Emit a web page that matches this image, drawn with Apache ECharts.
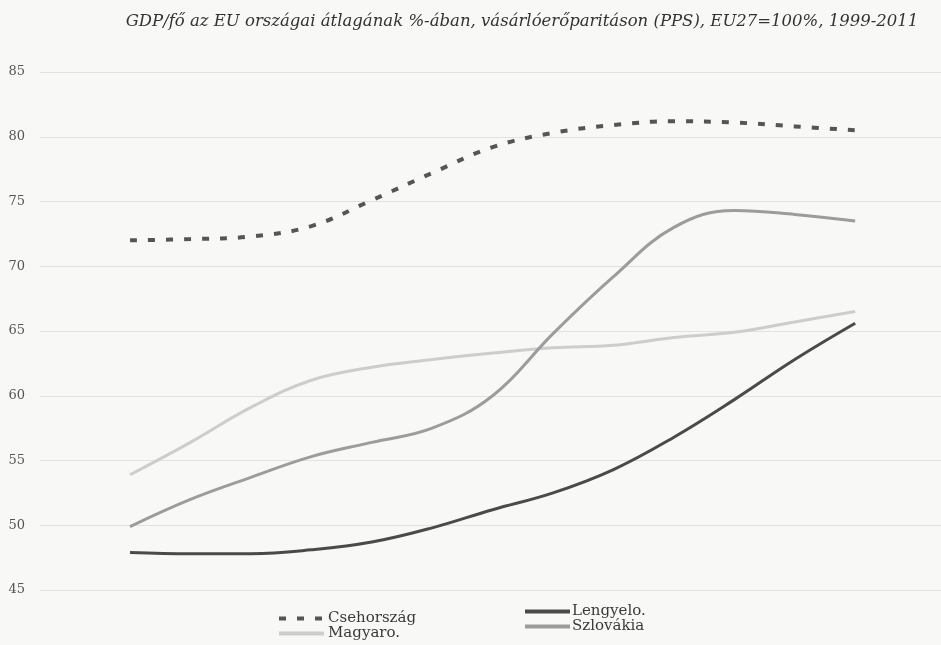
<!DOCTYPE html>
<html>

<head>
    <meta charset="utf-8">
    <title>GDP/fő PPS</title>
    <script src="https://cdn.jsdelivr.net/npm/echarts@6/dist/echarts.min.js"></script>
    <style>
        html, body { margin: 0; padding: 0; background: #f8f8f6; }
        #main { width: 941px; height: 645px; }
    </style>
</head>

<body>
    <div id="main"></div>
    <script>
        // évek
        var years = [1999, 2000, 2001, 2002, 2003, 2004, 2005, 2006, 2007, 2008, 2009, 2010, 2011];
        // országok adatai (EU27 = 100)
        var cseh = [72.0, 72.1, 72.3, 73.1, 75.1, 77.2, 79.2, 80.3, 80.9, 81.2, 81.1, 80.8, 80.5];
        var lengyel = [47.9, 47.8, 47.8, 48.1, 48.7, 49.8, 51.2, 52.5, 54.3, 56.8, 59.7, 62.8, 65.6];
        var magyar = [53.9, 56.4, 59.1, 61.2, 62.2, 62.8, 63.3, 63.7, 63.9, 64.5, 64.9, 65.7, 66.5];
        var szlovak = [49.9, 52.0, 53.7, 55.3, 56.4, 57.5, 60.0, 64.8, 69.2, 73.0, 74.3, 74.0, 73.5];
        var yTicks = [45, 50, 55, 60, 65, 70, 75, 80, 85];

        function pairs(vals) {
            return years.map(function (y, i) { return [y, vals[i]]; });
        }

        var serif = '"DejaVu Serif", "Liberation Serif", serif';
        var myChart = echarts.init(document.getElementById('main'));
        myChart.setOption({
            backgroundColor: '#f8f8f6',
            animation: false,
            title: {
                text: 'GDP/fő az EU országai átlagának %-ában, vásárlóerőparitáson (PPS), EU27=100%, 1999-2011',
                left: 517,
                textAlign: 'center',
                top: 8,
                textStyle: {
                    fontFamily: serif,
                    fontStyle: 'italic',
                    fontWeight: 'normal',
                    fontSize: 16.5,
                    color: '#333'
                }
            },
            //图例：两列
            legend: [{
                data: ['Csehország', 'Magyaro.'],
                orient: 'vertical',
                left: 277,
                top: 611,
                padding: 0,
                itemGap: 0,
                itemWidth: 45,
                itemHeight: 14,
                itemStyle: { opacity: 0 },
                lineStyle: { width: 4 },
                textStyle: { fontFamily: serif, fontSize: 15, color: '#3a3a3a', padding: [0, 0, 0, -1] }
            }, {
                data: ['Lengyelo.', 'Szlovákia'],
                orient: 'vertical',
                left: 523,
                top: 604,
                padding: 0,
                itemGap: 0,
                itemWidth: 45,
                itemHeight: 16,
                itemStyle: { opacity: 0 },
                lineStyle: { width: 4 },
                textStyle: { fontFamily: serif, fontSize: 15, color: '#3a3a3a', padding: [0, 0, 0, -3] }
            }],
            grid: { left: 40, right: 0, top: 72, bottom: 55 },
            xAxis: {
                type: 'value',
                min: 1997.51,
                max: 2012.42,
                show: false
            },
            yAxis: {
                type: 'value',
                min: yTicks[0],
                max: yTicks[yTicks.length - 1],
                interval: 5,
                axisLine: { show: false },
                axisTick: { show: false },
                axisLabel: {
                    margin: 15,
                    fontFamily: serif,
                    fontSize: 13,
                    color: '#555'
                },
                splitLine: { lineStyle: { color: '#e2e2e0', width: 1 } }
            },
            series: [{
                name: 'Csehország',
                type: 'line',
                smooth: 0.4,
                symbol: 'none',
                data: pairs(cseh),
                color: '#555',
                lineStyle: { color: '#555', width: 4, type: [7, 11] }
            }, {
                name: 'Lengyelo.',
                type: 'line',
                smooth: 0.4,
                symbol: 'none',
                data: pairs(lengyel),
                color: '#4a4a4a',
                lineStyle: { color: '#4a4a4a', width: 3 }
            }, {
                name: 'Magyaro.',
                type: 'line',
                smooth: 0.4,
                symbol: 'none',
                data: pairs(magyar),
                color: '#cdcdcd',
                lineStyle: { color: '#cdcdcd', width: 3 }
            }, {
                name: 'Szlovákia',
                type: 'line',
                smooth: 0.4,
                symbol: 'none',
                data: pairs(szlovak),
                color: '#9c9c9c',
                lineStyle: { color: '#9c9c9c', width: 3 }
            }]
        });
    </script>
</body>

</html>
